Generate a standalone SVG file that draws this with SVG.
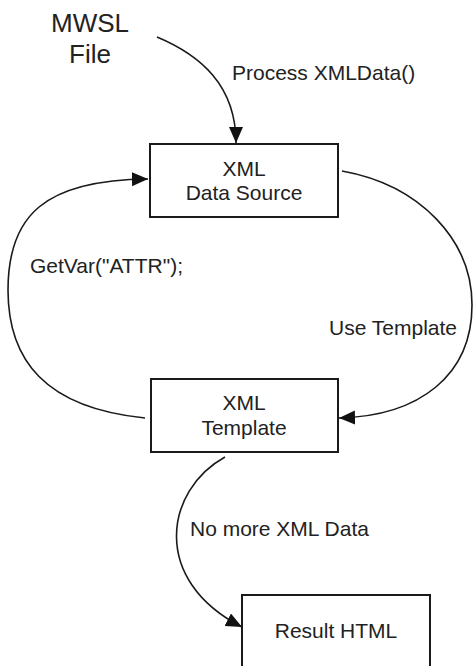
<svg xmlns="http://www.w3.org/2000/svg" width="473" height="666" viewBox="0 0 473 666">
<style>
  .box { fill: #fff; stroke: #1a1a1a; stroke-width: 2; }
  .lbl { font-family: "Liberation Sans", Arial, sans-serif; font-size: 21px; fill: #222; }
  .c { text-anchor: middle; }
  .big { font-size: 26px; }
  .conn { fill: none; stroke: #1a1a1a; stroke-width: 1.6; }
</style>
<defs>
  <marker id="arr" markerUnits="userSpaceOnUse" markerWidth="17" markerHeight="15" refX="16" refY="7" orient="auto">
    <path d="M0,0 L16,7 L0,14 z" fill="#111"/>
  </marker>
</defs>
<rect width="473" height="666" fill="#fff"/>
<g id="connectors">
  <path class="conn" d="M157,37 C200,55 236,85 236,143" marker-end="url(#arr)"/>
  <path class="conn" d="M342,171 C420,185 472,240 472,305 C472,375 420,416 339,418" marker-end="url(#arr)"/>
  <path class="conn" d="M145,418 C45,408 8,360 8,290 C8,215 45,180 148,179" marker-end="url(#arr)"/>
  <path class="conn" d="M225,457 C165,490 150,580 242,627" marker-end="url(#arr)"/>
</g>
<g id="mwsl">
  <text class="lbl big c" x="90" y="32">MWSL</text>
  <text class="lbl big c" x="90" y="63">File</text>
</g>
<g id="labels">
  <text class="lbl" x="232" y="80">Process XMLData()</text>
  <text class="lbl" x="30" y="273">GetVar("ATTR");</text>
  <text class="lbl" x="329" y="335">Use Template</text>
  <text class="lbl" x="190" y="536">No more XML Data</text>
</g>
<g id="datasource">
  <rect class="box" x="150" y="144" width="188" height="73"/>
  <text class="lbl c" x="244" y="176">XML</text>
  <text class="lbl c" x="244" y="200">Data Source</text>
</g>
<g id="template">
  <rect class="box" x="151" y="379" width="187" height="73"/>
  <text class="lbl c" x="244" y="410">XML</text>
  <text class="lbl c" x="244" y="435">Template</text>
</g>
<g id="result">
  <rect class="box" x="242" y="595" width="188" height="90"/>
  <text class="lbl c" x="336" y="638">Result HTML</text>
</g>
</svg>
